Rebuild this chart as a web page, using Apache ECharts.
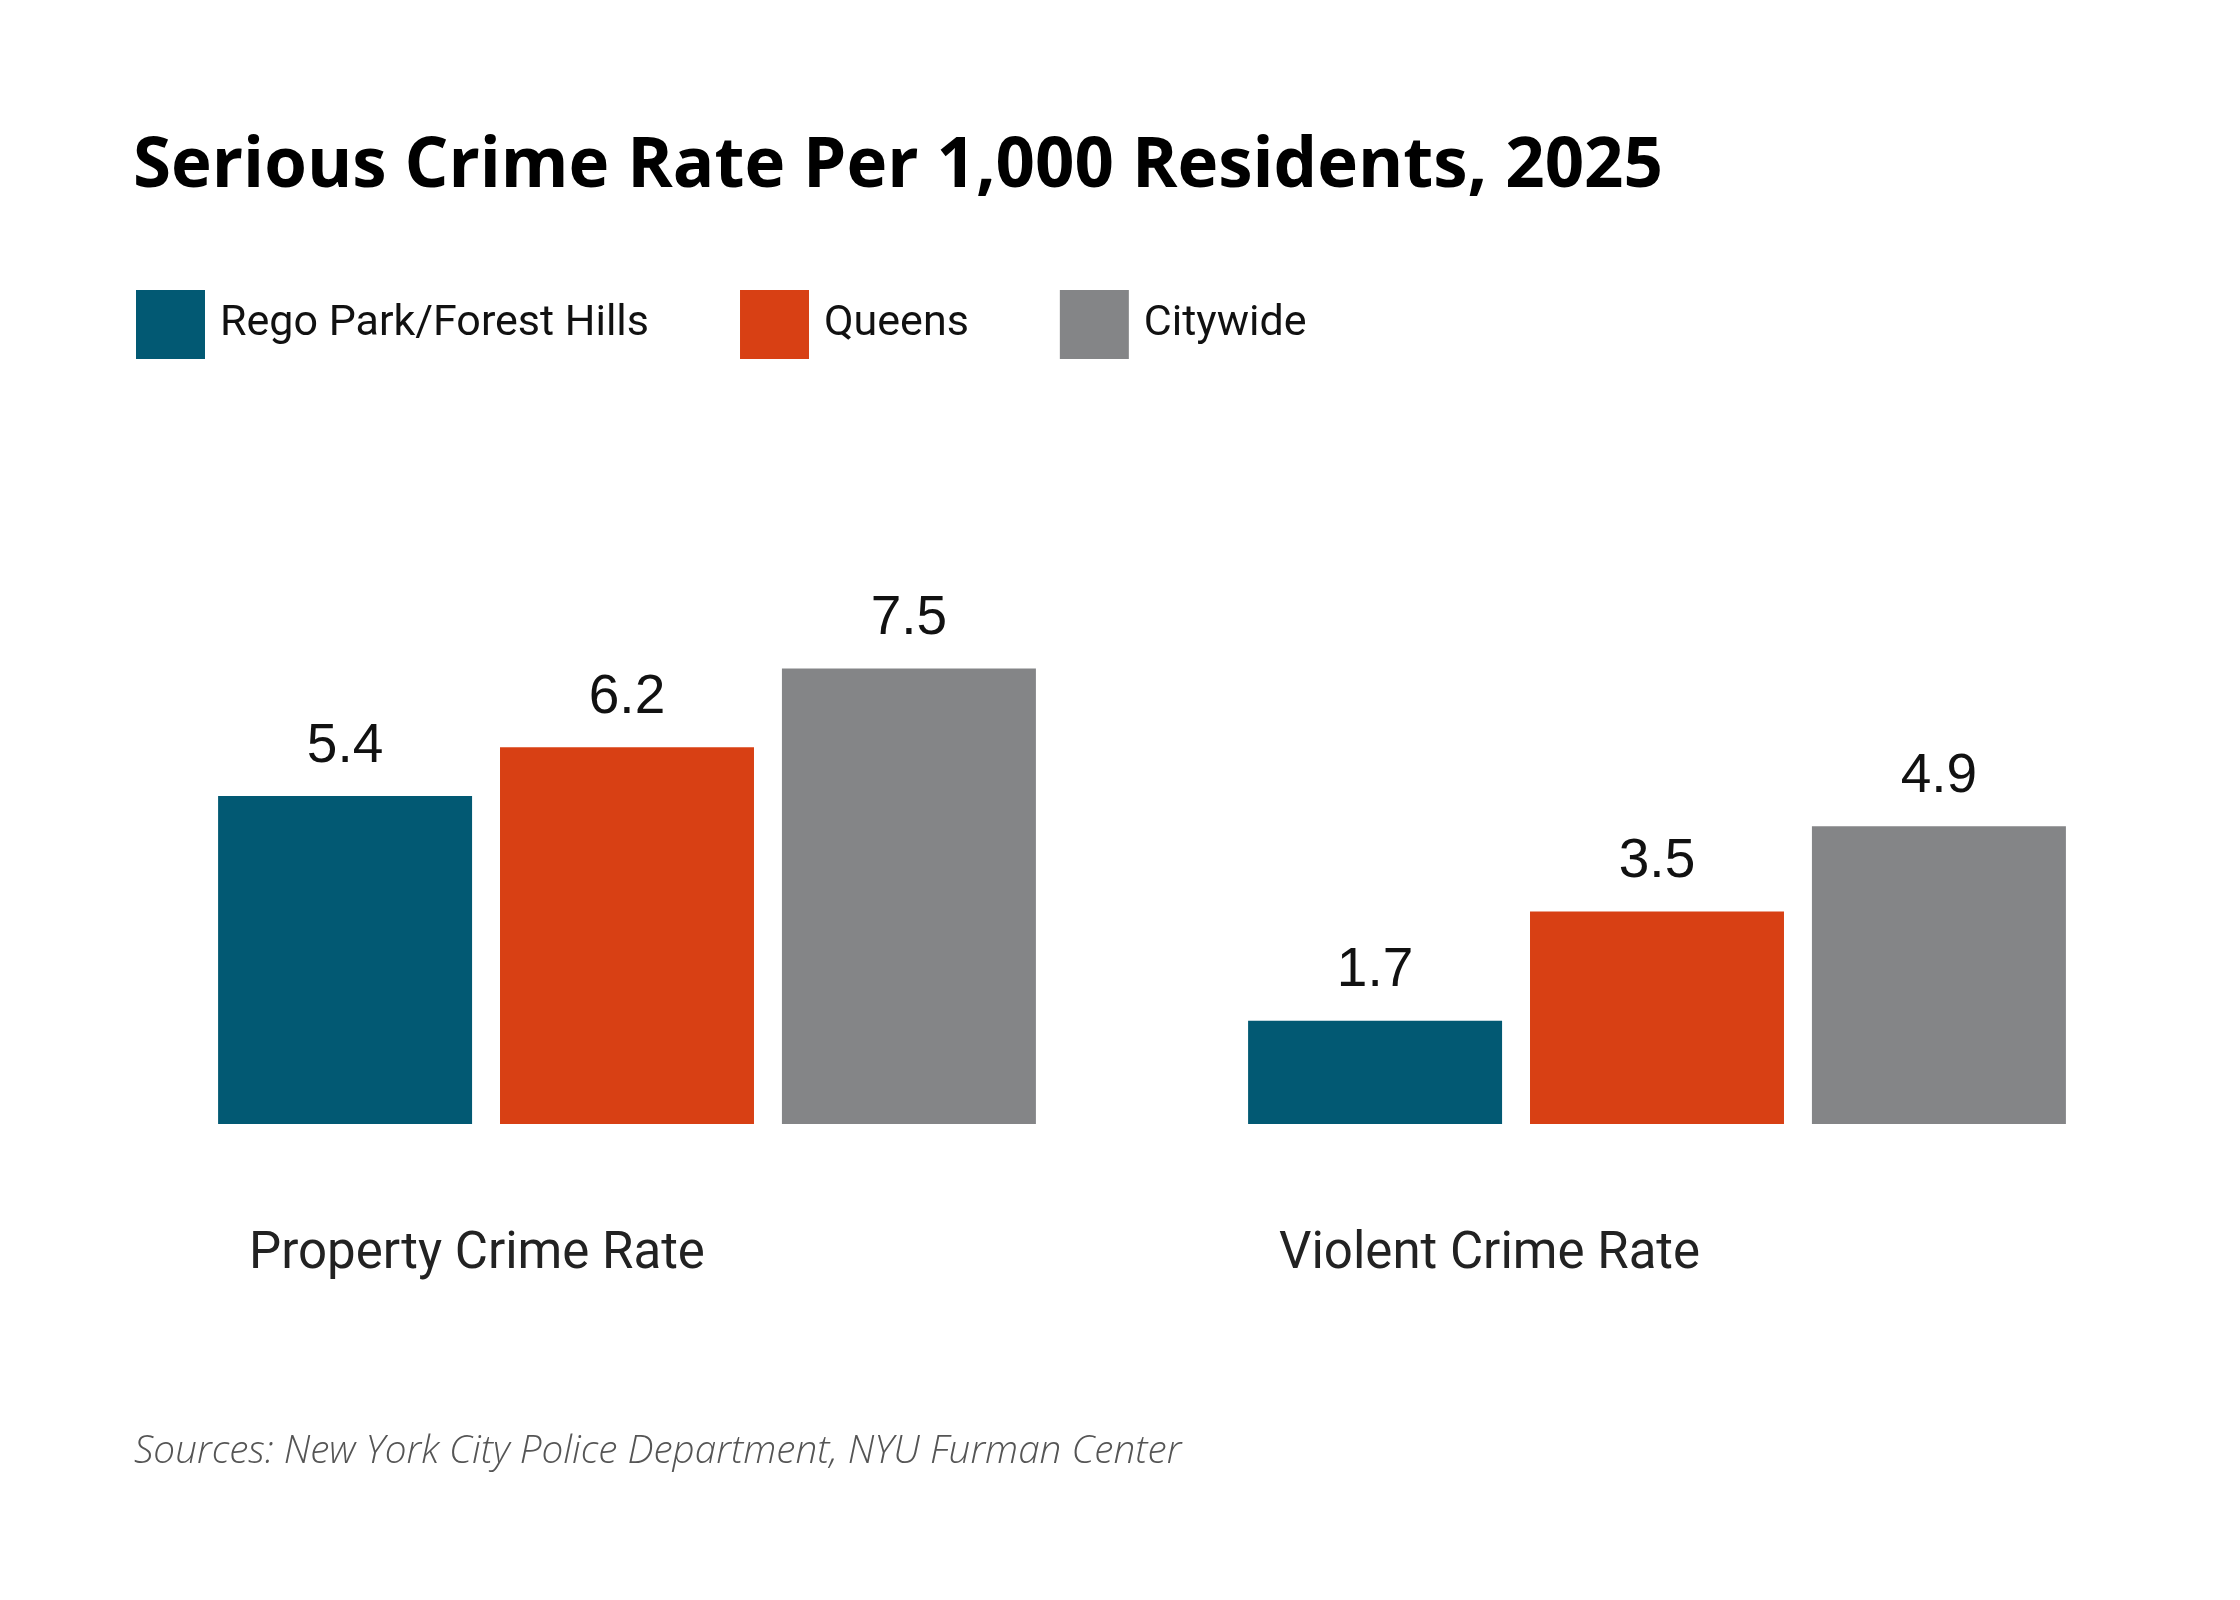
<!DOCTYPE html>
<html>
<head>
<meta charset="utf-8">
<title>Serious Crime Rate Per 1,000 Residents, 2025</title>
<script src="https://cdn.jsdelivr.net/npm/echarts@6/dist/echarts.min.js"></script>
<style>
	html, body { margin: 0; padding: 0; background: #fff; }
	#chart { width: 2240px; height: 1600px; }
</style>
</head>
<body>
<div id="chart"></div>
<script>
const categories = ['Property Crime Rate', 'Violent Crime Rate'];
const seriesNames = ['Rego Park/Forest Hills', 'Queens', 'Citywide'];
const regoPark = [5.4, 1.7];
const queens = [6.2, 3.5];
const citywide = [7.5, 4.9];

const colorList = ['#025973', '#D84014', '#848587'];

var chart = echarts.init(document.getElementById('chart'));

function barSeries(name, values) {
	return {
		name: name,
		type: 'bar',
		barGap: '11%',
		barCategoryGap: '20.6%',
		label: {
			show: true,
			position: 'top',
			distance: 22,
			color: '#111',
			fontFamily: 'Liberation Sans, Arial, sans-serif',
			fontSize: 55,
			formatter: function (p) { return p.value.toFixed(1); }
		},
		emphasis: { disabled: true },
		data: values
	};
}

var option = {
	backgroundColor: '#fff',
	animation: false,
	color: colorList,
	title: [{
		text: 'Serious Crime Rate Per 1,000 Residents, 2025',
		left: 133,
		top: 133,
		padding: 0,
		textStyle: {
			color: '#000',
			fontFamily: 'Open Sans',
			fontWeight: 700,
			fontSize: 69
		}
	}, {
		text: 'Sources: New York City Police Department, NYU Furman Center',
		left: 134,
		top: 1432,
		padding: 0,
		textStyle: {
			color: '#555',
			fontFamily: 'Open Sans',
			fontStyle: 'italic',
			fontWeight: 300,
			fontSize: 38.7
		}
	}],
	legend: {
		data: seriesNames,
		left: 136,
		top: 290,
		padding: 0,
		icon: 'rect',
		itemWidth: 69,
		itemHeight: 69,
		itemGap: 91,
		selectedMode: false,
		textStyle: {
			color: '#111',
			fontFamily: 'Roboto',
			fontSize: 43,
			padding: [5, 0, 0, 10]
		}
	},
	grid: {
		left: 112,
		right: 68,
		top: 638,
		bottom: 476,
		containLabel: false
	},
	xAxis: {
		type: 'category',
		data: categories,
		axisLine: { show: false },
		axisTick: { show: false },
		splitLine: { show: false },
		axisLabel: {
			color: '#222',
			fontFamily: 'Roboto',
			fontSize: 51,
			margin: 106,
			align: 'left',
			padding: [0, 0, 0, -378]   // labels sit left-aligned under each group
		}
	},
	yAxis: {
		type: 'value',
		min: 0,
		max: 8,
		show: false,
		splitLine: { show: false }
	},
	series: [
		barSeries(seriesNames[0], regoPark),
		barSeries(seriesNames[1], queens),
		barSeries(seriesNames[2], citywide)
	]
};

chart.setOption(option);
</script>
</body>
</html>
